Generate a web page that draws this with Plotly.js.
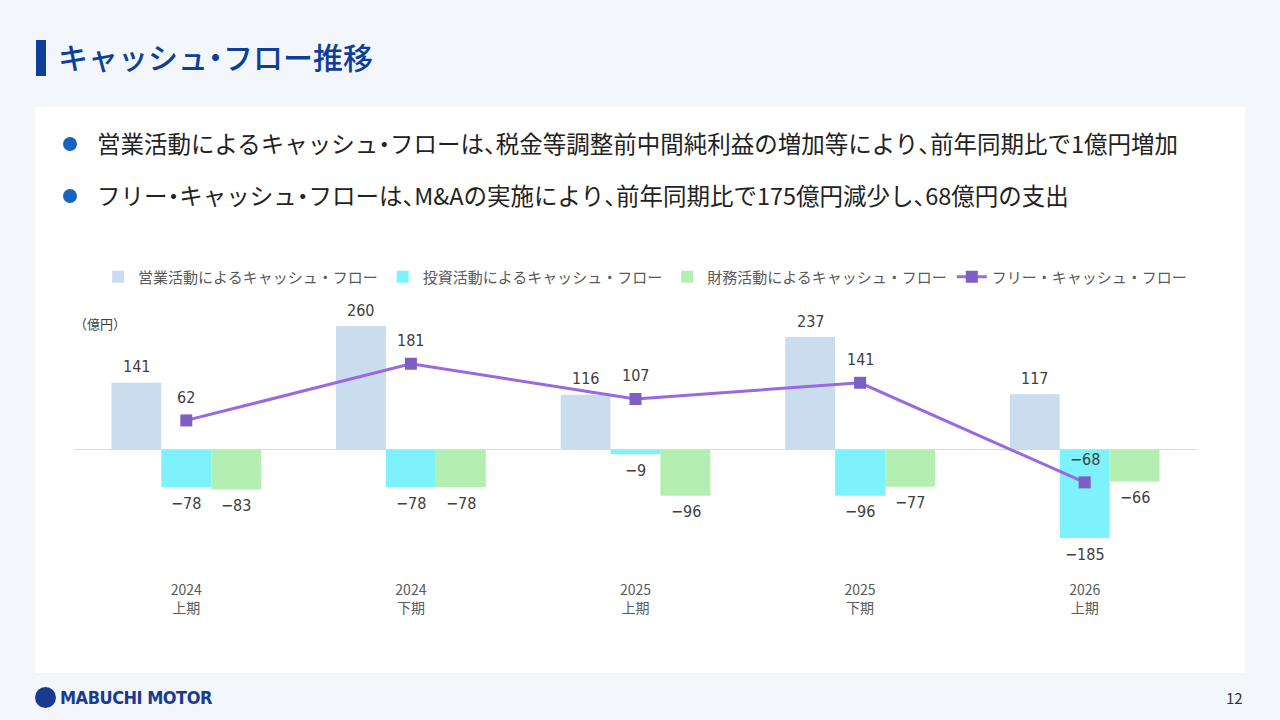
<!DOCTYPE html>
<html lang="ja">
<head>
<meta charset="utf-8">
<script src="https://cdn.plot.ly/plotly-3.0.1.min.js"></script>
<style>
  html, body { margin: 0; padding: 0; }
  body {
    width: 1280px; height: 720px; overflow: hidden; position: relative;
    background: #f3f7fc; font-family: "Noto Sans CJK JP", "Noto Sans", sans-serif;
  }
  .titlebar { position: absolute; left: 36px; top: 40px; width: 10px; height: 36px; background: #0d3f9a; }
  .title { position: absolute; left: 58px; top: 34px; font-size: 30px; font-weight: 500; color: #0d3f9a; line-height: 44px; }
  .panel { position: absolute; left: 35px; top: 107px; width: 1210px; height: 566px; background: #ffffff; }
  .bullet { position: absolute; left: 63px; font-size: 23.5px; color: #222222; line-height: 30px; white-space: nowrap; }
  .bullet::before {
    content: ""; position: absolute; left: 0; top: 9px; width: 14px; height: 14px;
    border-radius: 50%; background: #1565c0;
  }
  .bullet > span { margin-left: 34px; }
  .h { font-feature-settings: "halt"; }
  #chart { position: absolute; left: 0; top: 0; width: 1280px; height: 720px; }
  .logo { position: absolute; left: 35px; top: 685px; height: 24px; display: flex; align-items: center; }
  .logo .mark { width: 21px; height: 21px; border-radius: 50%; background: #1a3a8f; margin-right: 4px; }
  .logo .name { font-family: "DejaVu Sans Condensed", "Liberation Sans Narrow", sans-serif; font-stretch: condensed; font-weight: bold; font-size: 18px; color: #1a3a8f; letter-spacing: -0.5px; }
  .page { position: absolute; left: 1226px; top: 687px; font-size: 15px; color: #333333; }
</style>
</head>
<body>
<div class="titlebar"></div>
<div class="title">キャッシュ<span class="h">・</span>フロー推移</div>
<div class="panel"></div>
<div class="bullet" style="top:128px;"><span>営業活動によるキャッシュ<span class="h">・</span>フローは<span class="h">、</span>税金等調整前中間純利益の増加等により<span class="h">、</span>前年同期比で1億円増加</span></div>
<div class="bullet" style="top:180px;"><span>フリー<span class="h">・</span>キャッシュ<span class="h">・</span>フローは<span class="h">、</span>M&amp;Aの実施により<span class="h">、</span>前年同期比で175億円減少し<span class="h">、</span>68億円の支出</span></div>
<div id="chart"></div>
<div class="logo"><div class="mark"></div><div class="name">MABUCHI MOTOR</div></div>
<div class="page">12</div>
<script>
// periods
const periods = ['2024上期', '2024下期', '2025上期', '2025下期', '2026上期'];
const periodLabels = ['2024<br>上期', '2024<br>下期', '2025<br>上期', '2025<br>下期', '2026<br>上期'];

// cash flows (億円)
const operatingCF = [141, 260, 116, 237, 117];
const investingCF = [-78, -78, -9, -96, -185];
const financingCF = [-83, -78, -96, -77, -66];
const freeCF = [62, 181, 107, 141, -68];

const seriesNames = [
  '営業活動によるキャッシュ・フロー',
  '投資活動によるキャッシュ・フロー',
  '財務活動によるキャッシュ・フロー',
  'フリー・キャッシュ・フロー'
];

function fmt(v) {
  return v < 0 ? '\u2212' + Math.abs(v) : String(v);
}

const numFont = { family: '"DejaVu Sans Condensed", "Liberation Sans Narrow", "Noto Sans", sans-serif', size: 16, color: '#404040' };

function barTrace(name, values, color) {
  return {
    type: 'bar',
    name: name,
    x: periods,
    y: values,
    marker: { color: color }
  };
}

const data = [
  barTrace(seriesNames[0], operatingCF, '#c9ddef'),
  barTrace(seriesNames[1], investingCF, '#7ef2fc'),
  barTrace(seriesNames[2], financingCF, '#b3efb0'),
  {
    type: 'scatter',
    mode: 'lines+markers',
    name: seriesNames[3],
    x: periods,
    y: freeCF,
    line: { color: '#9a68e3', width: 3 },
    marker: { symbol: 'square', size: 12, color: '#7d5fc4' },
    cliponaxis: false
  }
];

// value labels, placed at each value through the axes
const annotations = [];
[operatingCF, investingCF, financingCF].forEach(function (vals, k) {
  vals.forEach(function (v, i) {
    annotations.push({
      x: periods[i], y: v, xref: 'x', yref: 'y',
      xshift: (k - 1) * 50, yshift: v >= 0 ? 16 : -16,
      text: fmt(v), showarrow: false, font: numFont
    });
  });
});
freeCF.forEach(function (v, i) {
  annotations.push({
    x: periods[i], y: v, xref: 'x', yref: 'y',
    yshift: 23, text: fmt(v), showarrow: false, font: numFont
  });
});
annotations.push({
  text: '（億円）',
  xref: 'paper', yref: 'paper',
  x: 0, y: (580 - 323) / 292,
  xanchor: 'left', yanchor: 'middle',
  xshift: -2,
  showarrow: false,
  font: { size: 13, color: '#404040' }
});

const layout = {
  width: 1280,
  height: 720,
  paper_bgcolor: 'rgba(0,0,0,0)',
  plot_bgcolor: 'rgba(0,0,0,0)',
  margin: { l: 74, r: 83, t: 288, b: 140, autoexpand: false },
  barmode: 'group',
  bargap: 1 / 3,
  bargroupgap: 0,
  font: { family: '"Noto Sans CJK JP", "Noto Sans", sans-serif', color: '#595959' },
  showlegend: true,
  legend: {
    orientation: 'h',
    xref: 'container', yref: 'container',
    x: 0.504, y: 1 - 277 / 720,
    xanchor: 'center', yanchor: 'middle',
    font: { size: 15, color: '#595959' },
    bgcolor: 'rgba(0,0,0,0)'
  },
  xaxis: {
    tickmode: 'array',
    tickvals: periods,
    ticktext: periodLabels,
    tickfont: { size: 14, color: '#595959' },
    showgrid: false,
    showline: false,
    zeroline: false,
    ticks: ''
  },
  yaxis: {
    range: [-273, 340],
    showgrid: false,
    showticklabels: false,
    zeroline: true,
    zerolinecolor: '#d9d9d9',
    zerolinewidth: 1,
    showline: false
  },
  annotations: annotations
};

Plotly.newPlot('chart', data, layout, { staticPlot: true });
</script>
</body>
</html>
